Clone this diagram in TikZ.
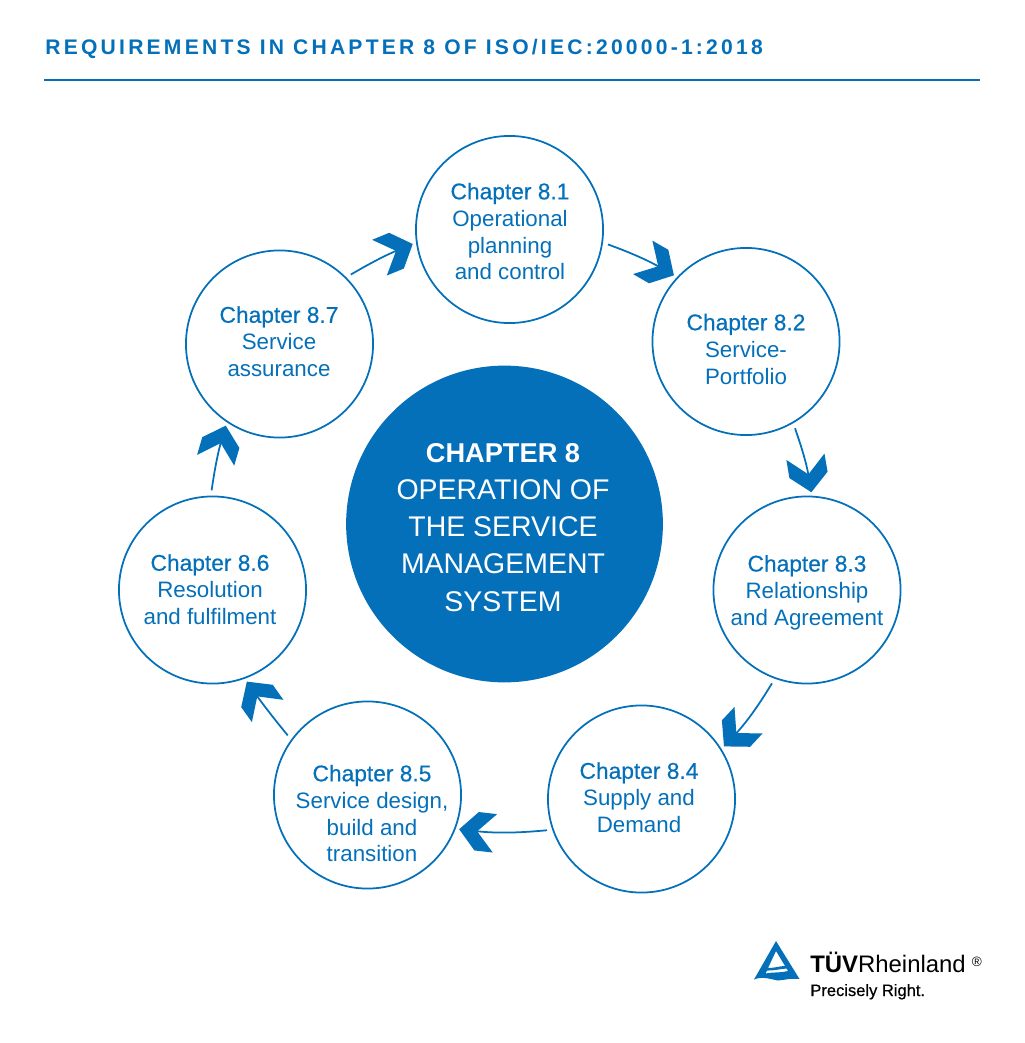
\documentclass[tikz,border=0pt]{standalone}
\usepackage{fontspec}
\setmainfont{Liberation Sans}
\newfontfamily\titlefont[LetterSpace=15.3]{Liberation Sans}
\newfontfamily\medfont[FakeBold=0.5]{Liberation Sans}
\definecolor{tuvblue}{HTML}{0470BA}
\newcommand{\chaphead}[1]{{\fontsize{12.95}{15.3}\medfont Chapter #1}}
\pgfdeclarearrow{
  name=Chevron,
  setup code={
    \pgfarrowssettipend{0pt}
    \pgfarrowssetlineend{-9pt}
    \pgfarrowssetvisualbackend{-20.5pt}
    \pgfarrowssetbackend{-20.5pt}
  },
  drawing code={
    \pgfpathmoveto{\pgfpoint{0pt}{0pt}}
    \pgfpathlineto{\pgfpoint{-10pt}{11pt}}
    \pgfpathlineto{\pgfpoint{-20.5pt}{11pt}}
    \pgfpathlineto{\pgfpoint{-10.3pt}{0pt}}
    \pgfpathlineto{\pgfpoint{-20.5pt}{-11pt}}
    \pgfpathlineto{\pgfpoint{-10pt}{-11pt}}
    \pgfpathclose
    \pgfusepathqfill
  }
}
\tikzset{
  chapter/.style={circle, draw=tuvblue, line width=1pt, minimum size=106.5pt, inner sep=0pt},
  chaptext/.style={text=tuvblue, align=center, font=\fontsize{12.7}{15.3}\selectfont},
  link/.style={draw=tuvblue, line width=1pt, -Chevron, shorten <=3pt, shorten >=2pt},
}
\begin{document}
\begin{tikzpicture}[x=0.02cm, y=-0.02cm]
  \useasboundingbox (0,0) rectangle (1024,1043);
  % Title
  \node[anchor=base west, inner sep=0pt, text=tuvblue, font=\fontsize{12}{14}\titlefont\bfseries] (title) at (45,55) {REQUIREMENTS IN CHAPTER 8 OF ISO/IEC:20000-1:2018};
  \coordinate (ruleL) at (44,80);
  \coordinate (ruleR) at (980,80);
  \draw[tuvblue, line width=0.75pt] (ruleL) -- (ruleR);
  % Center
  \node[circle, fill=tuvblue, minimum size=180.3pt, inner sep=0pt] (core) at (504.5,524) {};
  \node[text=white, align=center, font=\fontsize{16.2}{21.1}\selectfont] (coretext) at (503,527.5) {{\fontsize{15.5}{21.1}\selectfont\bfseries CHAPTER 8}\\OPERATION OF\\THE SERVICE\\MANAGEMENT\\SYSTEM};
  % Chapters
  \foreach \n/\x/\y/\tx/\ty/\txt in {
    1/509.5/229.5/510/231.5/{\chaphead{8.1}\\Operational\\planning\\and control},
    2/746/341.5/746/349/{\chaphead{8.2}\\Service-\\Portfolio},
    3/807/590/807/592.5/{\chaphead{8.3}\\Relationship\\and Agreement},
    4/641.5/799/639/797.5/{\chaphead{8.4}\\Supply and\\Demand},
    5/367.5/795/372/813.5/{\chaphead{8.5}\\Service design,\\build and\\transition},
    6/212.5/590/210/589.5/{\chaphead{8.6}\\Resolution\\and fulfilment},
    7/279.5/344/279/341.5/{\chaphead{8.7}\\Service\\assurance}} {
    \node[chapter] (C\n) at (\x,\y) {};
    \node[chaptext] (T\n) at (\tx,\ty) {\txt};
  }
  % Arrows
  \draw[link] (C1.-8) to[bend left=5] (C2.137);
  \draw[link] (C2.-60) to[bend left=5] (C3.87);
  \draw[link] (C3.-110) to[bend left=6] (C4.32);
  \draw[link] (C4.-161) to[bend left=6] (C5.-21);
  \draw[link] (C5.144) to[bend left=2] (C6.-70);
  \draw[link] (C6.91) to[bend left=4] (C7.-124);
  \draw[link] (C7.45) to[bend left=4] (C1.188);
  % Logo
  \fill[tuvblue, even odd rule] (776,941) -- (799.5,979) .. controls (790,978) and (785,980) .. (778,980.5) .. controls (770,979) and (762,976) .. (754,979.5) -- cycle
    (776,951) -- (785,966) .. controls (780,966) and (775,968) .. (768,968) -- cycle
    (765.5,973.5) -- (767,970.5) .. controls (772,971) and (780,969) .. (786.5,968.5) -- (788,971) .. controls (780,973) and (772,972) .. cycle;
  \node[anchor=base west, inner sep=0pt, font=\fontsize{13.6}{15}\selectfont] (brand) at (810,972) {\textbf{TÜV}Rheinland};
  \node[anchor=base west, inner sep=0pt, font=\fontsize{7.7}{9}\selectfont] (mark) at (971.5,966) {®};
  \node[anchor=base west, inner sep=0pt, font=\fontsize{9.4}{11}\medfont] (claim) at (810,996) {Precisely Right.};
\end{tikzpicture}
\end{document}
